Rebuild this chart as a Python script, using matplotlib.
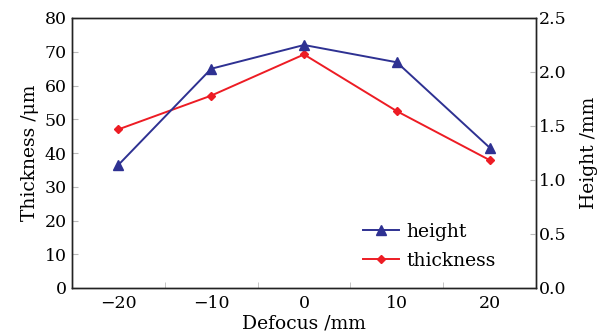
import matplotlib
matplotlib.use("Agg")
import matplotlib.pyplot as plt
from matplotlib.ticker import MultipleLocator

defocus = [-20, -10, 0, 10, 20]
height = [1.14, 2.03, 2.25, 2.09, 1.30]
thickness = [47.0, 57.0, 69.2, 52.4, 37.9]

plt.rcParams['font.family'] = ['DejaVu Serif']
plt.rcParams['mathtext.fontset'] = 'dejavuserif'

fig = plt.figure(figsize=(6.04, 3.35), dpi=100)
ax = fig.add_axes([72/604, 1-288/335, (536-72)/604, (288-18)/335])
ax2 = ax.twinx()

blue = '#2E3192'
red = '#ED1C24'

l2, = ax.plot(defocus, thickness, color=red, marker='D', markersize=4.5, lw=1.4, label='thickness')
l1, = ax2.plot(defocus, height, color=blue, marker='^', markersize=6.5, lw=1.4, label='height')

ax.set_xlim(-25, 25)
ax.set_ylim(0, 80)
ax2.set_ylim(0, 2.5)
ax.set_xticks([-20, -10, 0, 10, 20])
ax.set_xticklabels(['\u221220', '\u221210', '0', '10', '20'])
ax.xaxis.set_minor_locator(MultipleLocator(5))
ax.set_yticks(range(0, 81, 10))
ax2.set_yticks([0, 0.5, 1.0, 1.5, 2.0, 2.5])
ax2.set_yticklabels(['0.0', '0.5', '1.0', '1.5', '2.0', '2.5'])

fs = 12.5
lfs = 13.5
ax.tick_params(axis='x', which='major', length=0, labelsize=fs, pad=5)
ax.tick_params(axis='x', which='minor', direction='in', length=4, color='#bbbbbb')
ax.tick_params(axis='y', direction='in', length=4, color='#bbbbbb', labelsize=fs, pad=4)
ax2.tick_params(axis='y', direction='in', length=4, color='#bbbbbb', labelsize=fs, pad=2)

for a in (ax, ax2):
    for s in a.spines.values():
        s.set_linewidth(1.0)
        s.set_color('#222222')

ax.set_xlabel('Defocus /mm', fontsize=lfs, labelpad=2)
ax.set_ylabel('Thickness /\u03bcm', fontsize=lfs, labelpad=4)
ax2.set_ylabel('Height /mm', fontsize=lfs, labelpad=10)

ax2.legend([l1, l2], ['height', 'thickness'], loc='lower right', frameon=False,
           fontsize=lfs, bbox_to_anchor=(0.95, 0.005), handlelength=1.9, handletextpad=0.4,
           labelspacing=0.6)

fig.savefig('out.png', dpi=100)
